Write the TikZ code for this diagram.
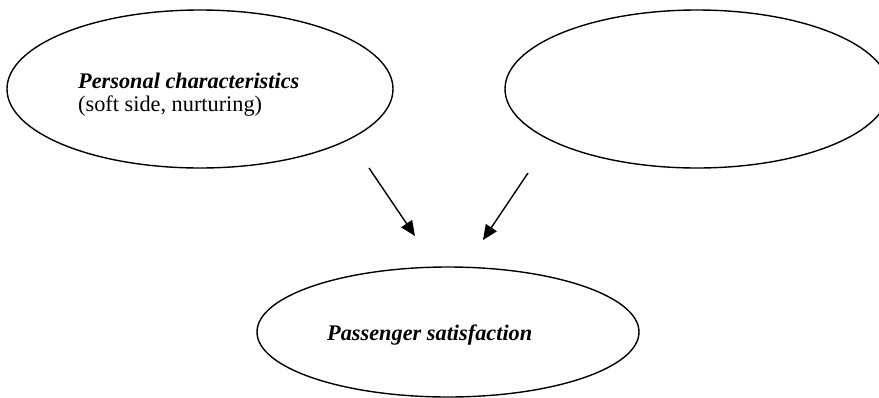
\documentclass[tikz,border=0pt]{standalone}
\usepackage{fontspec}
\setmainfont{Liberation Serif}
\usetikzlibrary{shapes.geometric,arrows.meta}
\begin{document}
\begin{tikzpicture}[x=1pt,y=-1pt,
  oval/.style={ellipse,draw,line width=1.4pt,inner sep=0pt},
  lbl/.style={inner sep=0pt,anchor=base west,font=\fontsize{22.3}{24}\selectfont},
  conn/.style={line width=1.4pt,-{Triangle[length=15pt,width=13pt]}}]
\useasboundingbox (0,0) rectangle (879,397);
\node[oval,minimum width=386pt,minimum height=158pt] (e1) at (200,89) {};
\node[oval,minimum width=384pt,minimum height=158pt] (e2) at (697,89) {};
\node[oval,minimum width=382pt,minimum height=130pt] (e3) at (448,332) {};
\node[lbl] (t1) at (78,88) {\textbf{\textit{Personal characteristics}}};
\node[lbl] (t2) at (78,111) {(soft side, nurturing)};
\node[lbl] (t3) at (327,340) {\textbf{\textit{Passenger satisfaction}}};
\coordinate (a1s) at (369,168);
\coordinate (a1e) at (415,236);
\coordinate (a2s) at (528,173);
\coordinate (a2e) at (483,240);
\draw[conn] (a1s) -- (a1e);
\draw[conn] (a2s) -- (a2e);
\end{tikzpicture}
\end{document}
